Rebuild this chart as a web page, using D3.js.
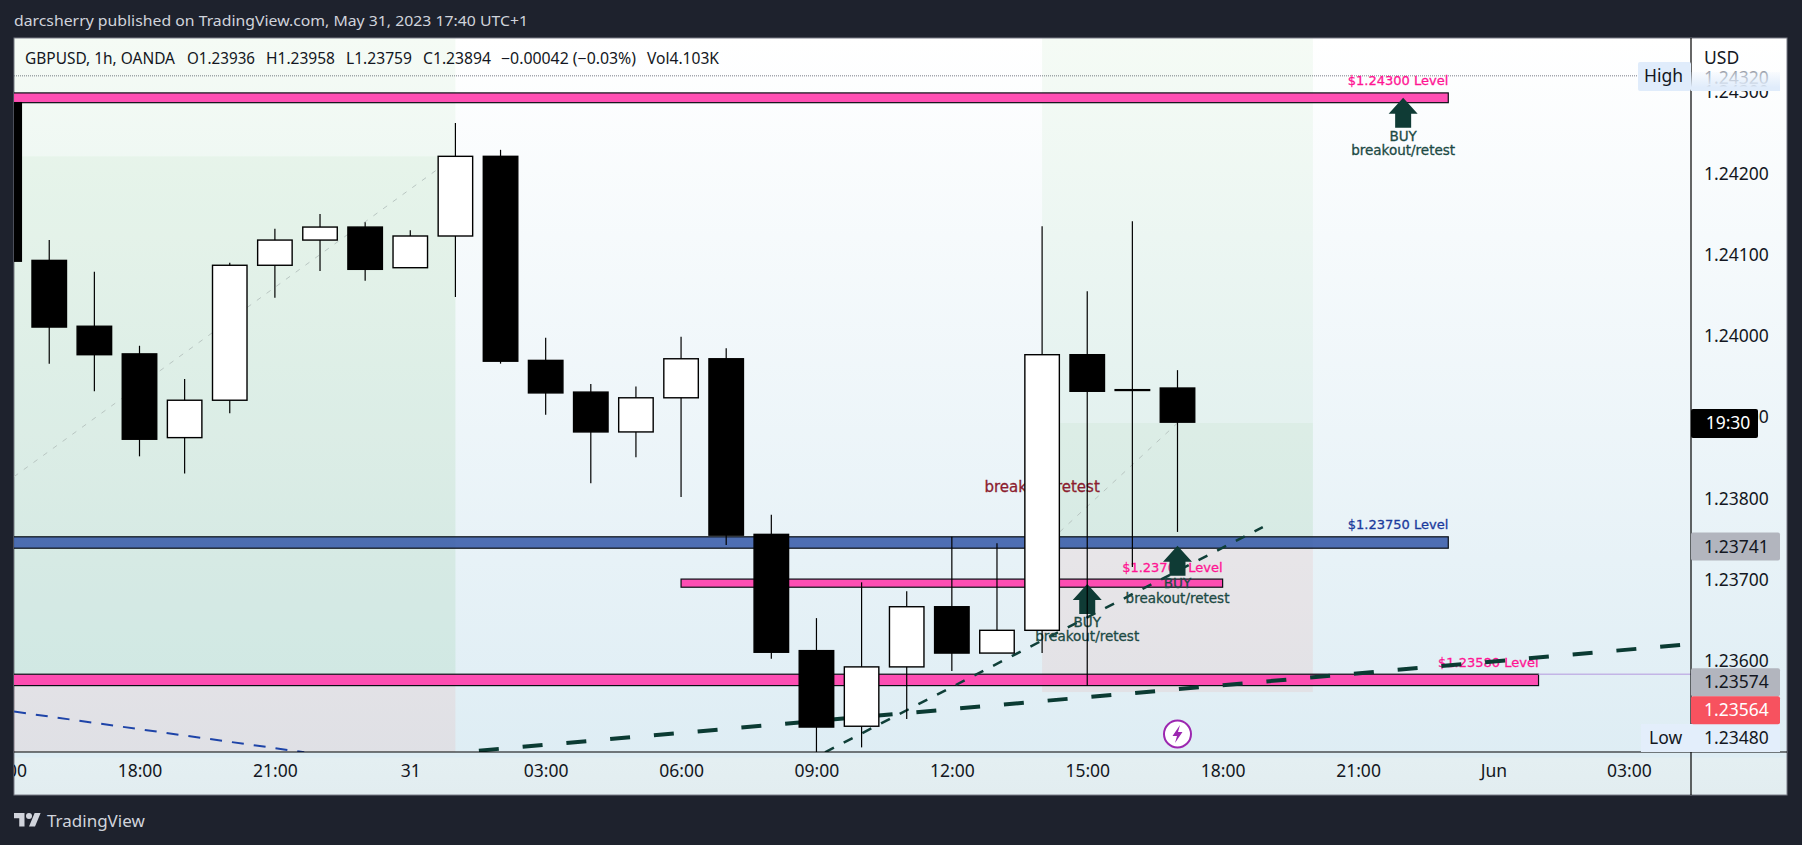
<!DOCTYPE html>
<html>
<head>
<meta charset="utf-8">
<script src="https://cdn.jsdelivr.net/npm/d3@7"></script>
<style>
html, body { margin: 0; padding: 0; background: #1e222d; overflow: hidden; }
svg { display: block; }
</style>
</head>
<body>
<div id="chart"></div>
<script>
/*************** DATA ***************/
// hours are counted from May 30 00:00
var candleHours = [15, 16, 17, 18, 19, 20, 21, 22, 23, 24, 25, 26, 27, 28, 29, 30, 31, 32, 33, 34, 35, 36, 37, 38, 39, 40, 41];
var opens  = [1.24287, 1.24093, 1.24012, 1.23978, 1.23875, 1.23921, 1.24087, 1.24118, 1.24134, 1.24084, 1.24123, 1.24221, 1.2397, 1.23931, 1.23882, 1.23924, 1.23972, 1.23756, 1.23613, 1.2352, 1.23593, 1.23667, 1.2361, 1.23638, 1.23977, 1.23934, 1.23936];
var highs  = [1.24287, 1.24118, 1.24079, 1.23988, 1.23947, 1.2409, 1.24132, 1.2415, 1.2414, 1.2413, 1.24262, 1.24229, 1.23998, 1.23941, 1.23938, 1.23999, 1.23985, 1.2378, 1.23653, 1.23697, 1.23686, 1.23753, 1.23745, 1.24135, 1.24055, 1.24141, 1.23958];
var lows   = [1.24092, 1.23966, 1.23932, 1.23852, 1.23831, 1.23905, 1.24047, 1.2408, 1.24068, 1.24084, 1.24048, 1.23966, 1.23903, 1.23819, 1.23851, 1.23802, 1.23743, 1.23603, 1.2348, 1.23494, 1.23529, 1.23588, 1.2361, 1.2361, 1.2357, 1.23716, 1.23759];
var closes = [1.24092, 1.24011, 1.23977, 1.23873, 1.23921, 1.24087, 1.24118, 1.24134, 1.24082, 1.24123, 1.24221, 1.23969, 1.2393, 1.23882, 1.23924, 1.23972, 1.23755, 1.23611, 1.23519, 1.23593, 1.23667, 1.2361, 1.23638, 1.23977, 1.23932, 1.23933, 1.23894];

var timeTickHours  = [15, 18, 21, 24, 27, 30, 33, 36, 39, 42, 45, 48, 51];
var timeTickLabels = ["15:00", "18:00", "21:00", "31", "03:00", "06:00", "09:00", "12:00", "15:00", "18:00", "21:00", "Jun", "03:00"];
var priceTicks = [1.2432, 1.243, 1.242, 1.241, 1.24, 1.239, 1.238, 1.237, 1.236];

// horizontal level boxes
var levelLabels = ["$1.24300 Level", "$1.23750 Level", "$1.23700 Level", "$1.23580 Level"];
var levelTops   = [1.24299, 1.23753, 1.23701, 1.23584];
var levelBots   = [1.24287, 1.23739, 1.23691, 1.2357];
var levelStarts = [10, 10, 30, 10];
var levelEnds   = [47, 47, 42, 49];

// long position tools: start, end, top, entry-ish, split, bottom
var zoneStarts = [10, 38];
var zoneEnds   = [25, 44];
var zoneTops   = [1.24366, 1.24366];
var zoneInner  = [1.24221, 1.23893];
var zoneEntry  = [1.23584, 1.23739];
var zoneStops  = [1.23488, 1.23562];

// trend lines [hour, price, hour, price]
var trendThick  = [25.52, 1.2349, 52.16, 1.2362];
var trendMedium = [33.19, 1.23488, 42.89, 1.23765];
var trendBlue   = [15.22, 1.23538, 21.65, 1.23488];
var diagLeft    = [15.22, 1.23827, 25, 1.24221];
var diagRight   = [38, 1.23739, 41, 1.23893];

var arrowHours  = [46, 39, 41];
var arrowPrices = [1.24293, 1.23695, 1.23742];

var tagPrices = [1.23741, 1.23574, 1.23564];

var legendParts = ["GBPUSD, 1h, OANDA", "O1.23936", "H1.23958", "L1.23759", "C1.23894", "\u22120.00042 (\u22120.03%)", "Vol4.103K"];

/*************** LAYOUT ***************/
var W = 1802, H = 845;
var left = 14, right = 1787, top_ = 38, bottom = 795, axisX = 1691, axisY = 752;
var labelFont = "'DejaVu Sans'";
var axisFont = "'Noto Sans'";

var x = d3.scaleLinear().domain([18, 51]).range([139.5, 1628.8]);
var y = d3.scaleLinear().domain([1.24, 1.236]).range([336, 661.2]);

var candles = candleHours.map(function(h, i){
	return {h: h, o: opens[i], hi: highs[i], lo: lows[i], c: closes[i]};
});

var svg = d3.select("#chart").append("svg").attr("width", W).attr("height", H);
var defs = svg.append("defs");

var bg = defs.append("linearGradient").attr("id", "bg").attr("x1", 0).attr("y1", 0).attr("x2", 0).attr("y2", 1);
bg.append("stop").attr("offset", "0").attr("stop-color", "#ffffff");
bg.append("stop").attr("offset", "0.95").attr("stop-color", "#deedf4");
bg.append("stop").attr("offset", "0.951").attr("stop-color", "#e4eff2");
bg.append("stop").attr("offset", "1").attr("stop-color", "#e2edf0");

var fade = defs.append("linearGradient").attr("id", "fade").attr("x1", 0).attr("y1", 0).attr("x2", 0).attr("y2", 1);
fade.append("stop").attr("offset", "0").attr("stop-color", "#e0ecfb").attr("stop-opacity", 0.15);
fade.append("stop").attr("offset", "0.8").attr("stop-color", "#e0ecfb").attr("stop-opacity", 1);

defs.append("clipPath").attr("id", "pane").append("rect")
	.attr("x", left).attr("y", top_).attr("width", axisX - left).attr("height", axisY - top_);
defs.append("clipPath").attr("id", "timePane").append("rect")
	.attr("x", left).attr("y", axisY).attr("width", axisX - left).attr("height", bottom - axisY);

svg.append("rect").attr("width", W).attr("height", H).attr("fill", "#1e222d");
svg.append("rect").attr("x", left).attr("y", top_).attr("width", right - left).attr("height", bottom - top_)
	.attr("fill", "url(#bg)").attr("stroke", "#787b86").attr("stroke-width", 1);

/*************** DRAWINGS ***************/
var pane = svg.append("g").attr("clip-path", "url(#pane)");

// dotted high line
pane.append("line").attr("x1", left).attr("x2", 1638).attr("y1", y(1.2432)).attr("y2", y(1.2432))
	.attr("stroke", "#787b86").attr("stroke-width", 1).attr("stroke-dasharray", "1 1");

zoneStarts.forEach(function(s, i){
	var x0 = x(s), w = x(zoneEnds[i]) - x0;
	pane.append("rect").attr("x", x0).attr("width", w).attr("y", y(zoneTops[i]))
		.attr("height", y(zoneEntry[i]) - y(zoneTops[i])).attr("fill", "rgba(76,175,80,0.055)");
	pane.append("rect").attr("x", x0).attr("width", w).attr("y", y(zoneInner[i]))
		.attr("height", y(zoneEntry[i]) - y(zoneInner[i])).attr("fill", "rgba(76,175,80,0.05)");
	pane.append("rect").attr("x", x0).attr("width", w).attr("y", y(zoneEntry[i]))
		.attr("height", y(zoneStops[i]) - y(zoneEntry[i])).attr("fill", "rgba(244,67,54,0.075)");
});

function trend(p, color, width, dash){
	pane.append("line")
		.attr("x1", x(p[0])).attr("y1", y(p[1]))
		.attr("x2", x(p[2])).attr("y2", y(p[3]))
		.attr("stroke", color).attr("stroke-width", width).attr("stroke-dasharray", dash);
}
trend(diagLeft, "#b9c6c2", 1, "5 7");
trend(diagRight, "#b9c6c2", 1, "5 7");

// level boxes
var levelFill = ["rgba(255,64,172,0.92)", "rgba(52,88,168,0.86)", "rgba(255,64,172,0.92)", "rgba(255,64,172,0.92)"];
var levelText = ["#ff1493", "#1a3a9c", "#ff1493", "#ff1493"];
levelTops.forEach(function(t, i){
	var x0 = x(levelStarts[i]), x1 = x(levelEnds[i]);
	pane.append("rect").attr("x", x0).attr("y", y(t)).attr("width", x1 - x0)
		.attr("height", y(levelBots[i]) - y(t))
		.attr("fill", levelFill[i]).attr("stroke", "#0a0f14").attr("stroke-width", 1.2);
});
// extended line of the last level
pane.append("line").attr("x1", x(49)).attr("x2", axisX).attr("y1", y(1.23584)).attr("y2", y(1.23584))
	.attr("stroke", "#c3b5e6").attr("stroke-width", 1.5);

levelTops.forEach(function(t, i){
	pane.append("text").attr("x", x(levelEnds[i])).attr("y", y(t) - 12).attr("dy", "0.35em")
		.attr("text-anchor", "end").attr("font-family", labelFont).attr("font-size", 13)
		.attr("fill", levelText[i]).attr("stroke", levelText[i]).attr("stroke-width", 0.3).text(levelLabels[i]);
});

pane.append("text").attr("x", x(38)).attr("y", y(1.23815)).attr("dy", "0.35em")
	.attr("text-anchor", "middle").attr("font-family", labelFont).attr("font-size", 15)
	.attr("fill", "#8c1d2f").attr("stroke", "#8c1d2f").attr("stroke-width", 0.3).text("breakout/retest");

trend(trendBlue, "#1e44a8", 2, "12 10");
trend(trendMedium, "#0f3f38", 2.5, "10 11");
trend(trendThick, "#0b3b33", 4, "20 23.92");

// buy arrows
arrowHours.forEach(function(h, i){
	var g = pane.append("g").attr("transform", "translate(" + x(h) + "," + y(arrowPrices[i]) + ")");
	g.append("path").attr("d", "M0 0L14.5 16H8V30H-8V16H-14.5Z").attr("fill", "#0f3b35");
	g.append("text").attr("y", 38).attr("dy", "0.35em").attr("text-anchor", "middle")
		.attr("font-family", labelFont).attr("font-size", 13.5).attr("fill", "#1c4a44")
		.attr("stroke", "#1c4a44").attr("stroke-width", 0.3).text("BUY");
	g.append("text").attr("y", 52.5).attr("dy", "0.35em").attr("text-anchor", "middle")
		.attr("font-family", labelFont).attr("font-size", 13.5).attr("fill", "#1c4a44")
		.attr("stroke", "#1c4a44").attr("stroke-width", 0.3).text("breakout/retest");
});

/*************** CANDLES ***************/
var bodyW = 34.5;
var candle = pane.selectAll("g.candle").data(candles).enter().append("g").attr("class", "candle");
candle.append("line")
	.attr("x1", function(d){ return x(d.h); }).attr("x2", function(d){ return x(d.h); })
	.attr("y1", function(d){ return y(d.hi); }).attr("y2", function(d){ return y(d.lo); })
	.attr("stroke", "#000").attr("stroke-width", 1.2);
candle.append("rect")
	.attr("x", function(d){ return x(d.h) - bodyW / 2; })
	.attr("width", bodyW)
	.attr("y", function(d){ return y(Math.max(d.o, d.c)); })
	.attr("height", function(d){ return Math.abs(y(d.o) - y(d.c)); })
	.attr("fill", function(d){ return d.c > d.o ? "#fff" : "#000"; })
	.attr("stroke", "#000").attr("stroke-width", 1.4);

// lightning mark
var bolt = pane.append("g").attr("transform", "translate(" + x(41) + ",734)");
bolt.append("circle").attr("r", 13.5).attr("fill", "#fff").attr("stroke", "#9c27b0").attr("stroke-width", 2);
bolt.append("path").attr("d", "M2.5 -9L-5 2H-0.5L-2.5 9L5 -2H0.5Z").attr("fill", "#9c27b0");

/*************** AXES ***************/
var priceAxis = d3.axisRight(y).tickValues(priceTicks).tickSize(0).tickPadding(13).tickFormat(d3.format(".5f"));
var pa = svg.append("g").attr("transform", "translate(" + axisX + ",0)").call(priceAxis);
pa.select(".domain").remove();
pa.selectAll("text").attr("font-family", axisFont).attr("font-size", 17.5)
	.attr("fill", function(d){ return d === 1.2432 ? "#9a9ea8" : "#131722"; })
	.attr("dy", function(d){ return d === 1.2432 ? "0.45em" : "0.32em"; });

var timeAxis = d3.axisBottom(x).tickValues(timeTickHours).tickSize(0).tickPadding(13)
	.tickFormat(function(d){ return timeTickLabels[timeTickHours.indexOf(d)]; });
var ta = svg.append("g").attr("clip-path", "url(#timePane)").append("g")
	.attr("transform", "translate(0," + axisY + ")").call(timeAxis);
ta.select(".domain").remove();
ta.selectAll("text").attr("font-family", axisFont).attr("font-size", 17.5).attr("fill", "#131722");

svg.append("line").attr("x1", left).attr("x2", right).attr("y1", axisY).attr("y2", axisY).attr("stroke", "#000").attr("stroke-width", 1.2);
svg.append("line").attr("x1", axisX).attr("x2", axisX).attr("y1", top_).attr("y2", bottom).attr("stroke", "#000").attr("stroke-width", 1.2);

function axisText(tx, ty, str, fill, anchor){
	return svg.append("text").attr("x", tx).attr("y", ty).attr("dy", "0.35em")
		.attr("text-anchor", anchor || "start").attr("font-family", axisFont).attr("font-size", 17.5)
		.attr("fill", fill || "#131722").text(str);
}

axisText(1704, 58, "USD");

// High tag sits on top of the ticks
svg.append("rect").attr("x", 1691).attr("y", 72).attr("width", 89).attr("height", 19).attr("fill", "url(#fade)");
svg.append("rect").attr("x", 1638).attr("y", 62).attr("width", 53).attr("height", 29).attr("rx", 2).attr("fill", "#e0ecfb");
axisText(1644, 76, "High");

// Low tag
svg.append("rect").attr("x", 1641).attr("y", 724).attr("width", 139).attr("height", 28).attr("fill", "#e3eefb");
axisText(1649, 738, "Low");
axisText(1704, 738, "1.23480");

// last price countdown
svg.append("rect").attr("x", axisX).attr("y", 409).attr("width", 67).attr("height", 29).attr("rx", 2).attr("fill", "#000");
axisText(1728, 423, "19:30", "#fff", "middle");

// stacked price tags, pushed down so they do not overlap
var tagFill = ["#b2b5be", "#b2b5be", "#f7525f"];
var tagText = ["#131722", "#131722", "#ffffff"];
var tagY = -100;
tagPrices.forEach(function(p, i){
	tagY = Math.max(y(p), tagY + 28);
	svg.append("rect").attr("x", axisX).attr("y", tagY - 14).attr("width", 89).attr("height", 28).attr("rx", 2).attr("fill", tagFill[i]);
	axisText(1704, tagY, d3.format(".5f")(p), tagText[i]);
});

/*************** HEADER AND FOOTER ***************/
svg.append("text").attr("x", 14).attr("y", 21).attr("dy", "0.35em").attr("font-family", axisFont)
	.attr("font-size", 15).attr("fill", "#d1d4dc")
	.attr("textLength", 514).attr("lengthAdjust", "spacingAndGlyphs")
	.text("darcsherry published on TradingView.com, May 31, 2023 17:40 UTC+1");

// legend pieces are spaced apart like the chart header
var legendX = [25, 187, 266, 346, 423, 501, 647];
var legendW = [150, 68, 69, 66, 68, 135, 72];
legendParts.forEach(function(s, i){
	svg.append("text").attr("x", legendX[i]).attr("y", 59).attr("dy", "0.35em").attr("font-family", axisFont)
		.attr("font-size", 15.5).attr("fill", "#131722")
		.attr("textLength", legendW[i]).attr("lengthAdjust", "spacingAndGlyphs").text(s);
});

var logo = svg.append("g").attr("transform", "translate(14,810) scale(0.75)").attr("fill", "#d1d4dc");
logo.append("path").attr("d", "M14 22H7V11H0V4h14v18zM28 22h-8l7.5-18h8L28 22z");
logo.append("circle").attr("cx", 20).attr("cy", 8).attr("r", 4);
svg.append("text").attr("x", 47).attr("y", 821).attr("dy", "0.35em").attr("font-family", axisFont)
	.attr("font-size", 17).attr("fill", "#d1d4dc").text("TradingView");
</script>
</body>
</html>
